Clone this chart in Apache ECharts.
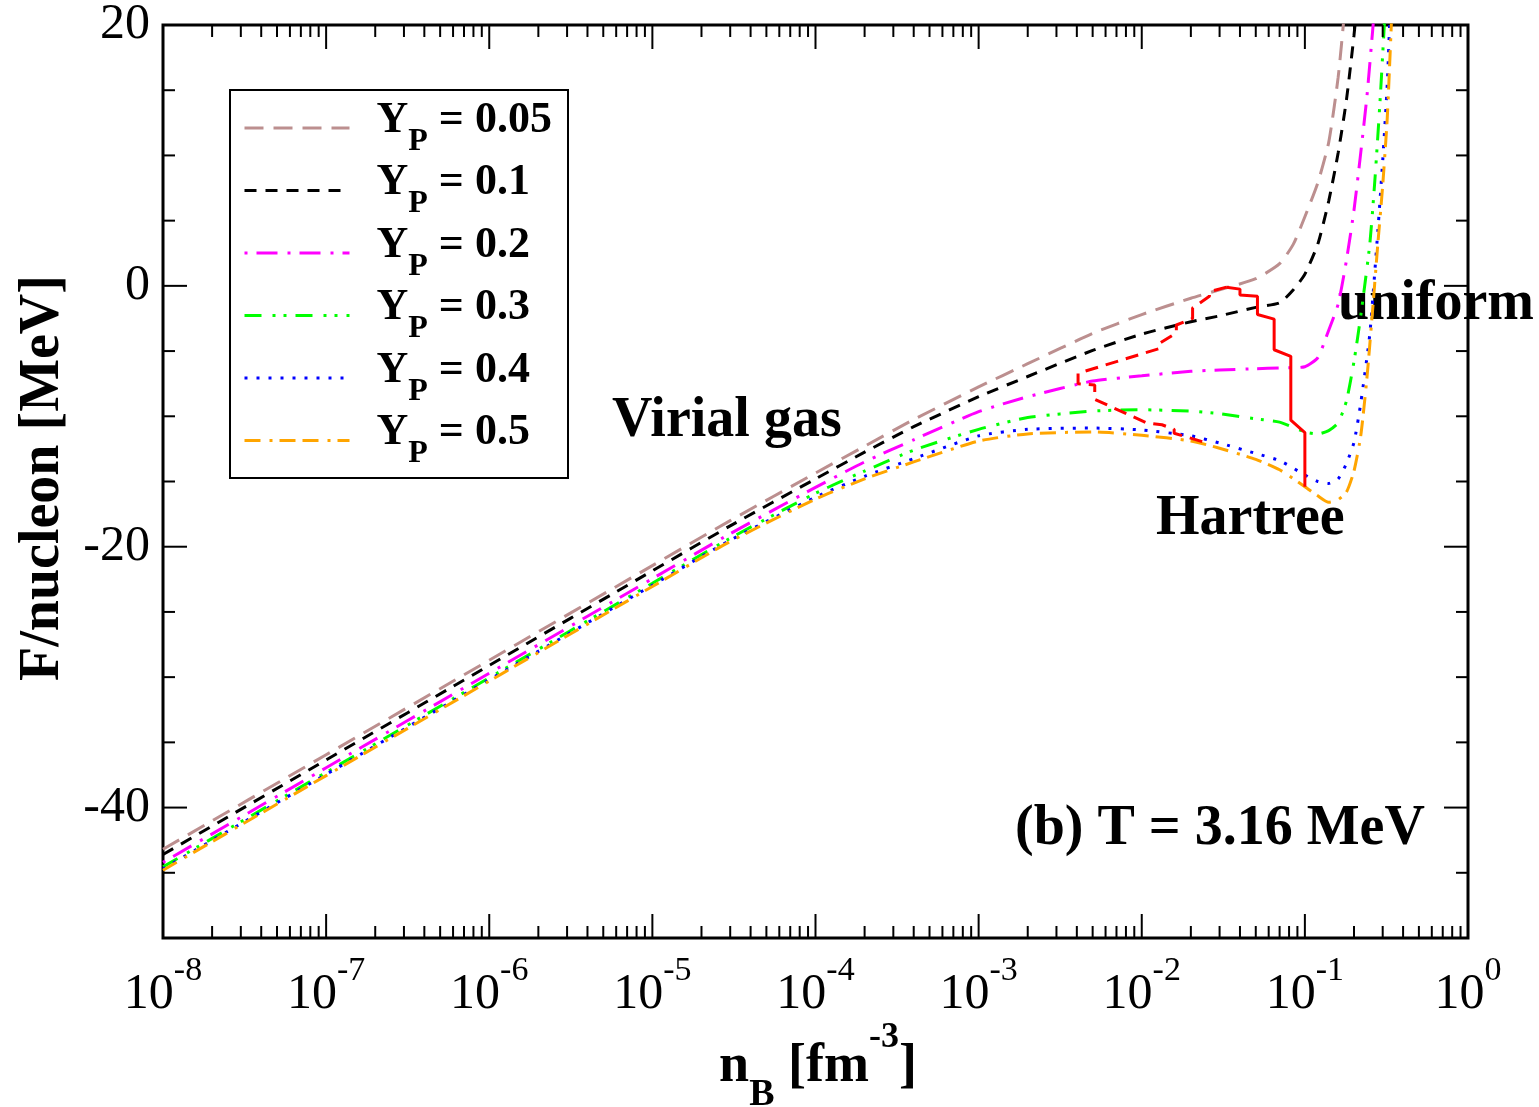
<!DOCTYPE html>
<html>
<head>
<meta charset="utf-8">
<script src="https://cdn.jsdelivr.net/npm/echarts@6/dist/echarts.min.js"></script>
<style>html,body{margin:0;padding:0;background:#fff}#c{width:1539px;height:1107px}</style>
</head>
<body>
<div id="c"></div>
<script>
// ---------- data: [n_B (fm^-3), F/nucleon (MeV)] ----------
const yp005 = [[1e-8,-43.2],[1e-7,-35.95],[1e-6,-28.7],[1e-5,-21.45],[3e-5,-18.0],[1e-4,-14.35],[2e-4,-12.3],[4e-4,-10.25],[1e-3,-7.75],[2e-3,-5.97],[5e-3,-3.65],[1e-2,-2.2],[2e-2,-0.95],[3e-2,-0.3],[5e-2,0.55],[7e-2,1.7],[0.085,3.2],[0.1,5.3],[0.12,7.9],[0.14,11.0],[0.16,16.0],[0.175,21.0]];
const yp01  = [[1e-8,-43.6],[1e-7,-36.35],[1e-6,-29.1],[1e-5,-21.85],[3e-5,-18.4],[1e-4,-14.8],[2e-4,-12.75],[4e-4,-10.8],[1e-3,-8.5],[2e-3,-6.95],[5e-3,-4.95],[1e-2,-3.7],[2e-2,-2.75],[3e-2,-2.3],[5e-2,-1.65],[7e-2,-1.3],[0.085,-0.3],[0.1,0.9],[0.12,3.2],[0.14,6.5],[0.16,10.2],[0.18,14.3],[0.2,19.2],[0.21,22.0]];
const yp02  = [[1e-8,-44.2],[1e-7,-36.95],[1e-6,-29.7],[1e-5,-22.45],[3e-5,-19.0],[1e-4,-15.45],[2e-4,-13.5],[4e-4,-11.8],[1e-3,-9.65],[2e-3,-8.5],[5e-3,-7.3],[1e-2,-6.9],[2e-2,-6.55],[3e-2,-6.45],[5e-2,-6.35],[7e-2,-6.3],[0.1,-6.2],[0.12,-5.5],[0.14,-3.4],[0.16,-1.4],[0.18,2.0],[0.2,5.8],[0.22,10.2],[0.24,14.5],[0.26,19.5],[0.27,22.0]];
const yp03  = [[1e-8,-44.55],[1e-7,-37.3],[1e-6,-30.05],[1e-5,-22.8],[3e-5,-19.35],[1e-4,-15.9],[2e-4,-14.2],[4e-4,-12.6],[1e-3,-11.0],[2e-3,-10.1],[5e-3,-9.6],[1e-2,-9.5],[2e-2,-9.6],[3e-2,-9.8],[5e-2,-10.2],[7e-2,-10.45],[0.1,-11.2],[0.12,-11.35],[0.14,-11.1],[0.16,-10.5],[0.18,-8.8],[0.2,-5.8],[0.22,-2.3],[0.25,3.2],[0.27,8.5],[0.29,14.5],[0.31,21.0]];
const yp04  = [[1e-8,-44.7],[1e-7,-37.45],[1e-6,-30.2],[1e-5,-22.95],[3e-5,-19.5],[1e-4,-16.2],[2e-4,-14.6],[4e-4,-13.25],[1e-3,-11.5],[2e-3,-11.0],[5e-3,-10.9],[1e-2,-11.05],[2e-2,-11.5],[3e-2,-12.05],[5e-2,-12.85],[7e-2,-13.4],[0.1,-14.5],[0.12,-15.0],[0.14,-15.15],[0.16,-14.8],[0.18,-13.6],[0.2,-12.0],[0.22,-9.0],[0.25,-3.7],[0.28,4.2],[0.3,9.6],[0.32,15.5],[0.335,22.0]];
const yp05  = [[1e-8,-44.8],[1e-7,-37.55],[1e-6,-30.3],[1e-5,-23.05],[3e-5,-19.6],[1e-4,-16.35],[2e-4,-14.8],[4e-4,-13.5],[1e-3,-11.9],[2e-3,-11.35],[5e-3,-11.2],[1e-2,-11.45],[2e-2,-11.9],[3e-2,-12.45],[5e-2,-13.3],[7e-2,-14.1],[0.1,-15.4],[0.12,-16.1],[0.14,-16.6],[0.16,-16.4],[0.18,-15.8],[0.2,-14.2],[0.22,-11.5],[0.24,-7.1],[0.26,-1.9],[0.28,3.2],[0.3,7.7],[0.32,12.9],[0.34,20.5]];
// phase boundaries (red)
const boundarySolid  = [[0.033,-0.1],[0.040,-0.25],[0.040,-0.7],[0.0512,-0.8],[0.0512,-2.2],[0.0648,-2.55],[0.0648,-4.9],[0.082,-5.4],[0.082,-10.3],[0.1,-11.25],[0.1,-15.4]];
const boundaryDashed = [[0.0331,-0.1],[0.026,-0.44],[0.026,-0.8],[0.0205,-1.7],[0.0205,-2.5],[0.0163,-3.0],[0.0163,-3.6],[0.0129,-4.4],[0.0129,-4.8],[0.00407,-6.7],[0.00407,-7.5],[0.00515,-7.6],[0.00515,-8.7],[0.0107,-10.5],[0.0133,-10.65],[0.0158,-11.0],[0.0158,-11.3],[0.025,-12.05]];

const seriesNames = ['0.05','0.1','0.2','0.3','0.4','0.5'];
const seriesData  = [yp005, yp01, yp02, yp03, yp04, yp05];

// ticks
const xDecades   = [-8,-7,-6,-5,-4,-3,-2,-1];
const xMinorMult = [2,3,4,5,6,7,8,9];
const yTickVals  = [-45,-40,-35,-30,-25,-20,-15,-10,-5,0,5,10,15];
const yMajorVals = [-40,-20,0];
const Y_MIN = -50, Y_MAX = 20, X_MIN = 1e-8, X_MAX = 1;

// ---------- styles ----------
const FONT = 'Liberation Serif';
const styles = [
  {color:'#bc8f8f', type:[19,10]},
  {color:'#000000', type:[12,9]},
  {color:'#ff00ff', type:[3,9,21,10]},
  {color:'#00ff00', type:[17,11,3,8,3,9]},
  {color:'#0000ff', type:[3,9]},
  {color:'#ffa500', type:[16,9,3,7,16,7]}
];

const xTickData = [];
xDecades.forEach(d => {
  if (d > -8) xTickData.push([Math.pow(10, d), 1]);
  xMinorMult.forEach(m => xTickData.push([m * Math.pow(10, d), 0]));
});
const yTickData = yTickVals.map(v => [1e-4, v, yMajorVals.indexOf(v) >= 0 ? 1 : 0]);

const chart = echarts.init(document.getElementById('c'), null, {renderer:'canvas'});

const lineSeries = seriesNames.map((nm, i) => ({
  name: nm, type:'line', data: seriesData[i], symbol:'none', smooth:0.2, silent:true,
  lineStyle:{color:styles[i].color, width:3, type:styles[i].type},
  itemStyle:{color:styles[i].color, opacity:0}, z:3
}));

const tickStyle = {stroke:'#000', lineWidth:2};

const option = {
  animation:false,
  backgroundColor:'#ffffff',
  grid:{left:163, right:71, top:25, bottom:169, show:true, borderColor:'#000', borderWidth:3, backgroundColor:'transparent', containLabel:false, outerBoundsMode:'none'},
  xAxis:{
    type:'log', logBase:10, min:X_MIN, max:X_MAX,
    axisLine:{show:false}, axisTick:{show:false}, splitLine:{show:false}, minorTick:{show:false},
    axisLabel:{
      margin:16, color:'#000',
      formatter:function(v){ const e = Math.round(Math.log10(v)); return '{b|10}{s|' + e + '}'; },
      rich:{
        b:{fontFamily:FONT, fontSize:50, lineHeight:82, color:'#000'},
        s:{fontFamily:FONT, fontSize:34, lineHeight:34, verticalAlign:'top', color:'#000'}
      }
    }
  },
  yAxis:{
    type:'value', min:Y_MIN, max:Y_MAX, interval:10,
    axisLine:{show:false}, axisTick:{show:false}, splitLine:{show:false},
    axisLabel:{margin:13, color:'#000', fontFamily:FONT, fontSize:50,
      formatter:function(v){ return (v % 20 === 0) ? String(v) : ''; }}
  },
  legend:{
    show:true, orient:'vertical', left:243, top:98.5, padding:0,
    itemWidth:105, itemHeight:14, itemGap:3.5, selectedMode:false,
    itemStyle:{opacity:0, borderWidth:0},
    lineStyle:{width:3},
    data: seriesNames,
    formatter:function(name){ return '{y|Y}{p|P}{t| = ' + name + '}{h|\u00a0}'; },
    textStyle:{
      fontFamily:FONT, color:'#000',
      rich:{
        y:{fontFamily:FONT, fontWeight:'bold', fontSize:44, lineHeight:44, verticalAlign:'top', padding:[0,0,0,22], color:'#000'},
        p:{fontFamily:FONT, fontWeight:'bold', fontSize:32, lineHeight:32, verticalAlign:'bottom', color:'#000'},
        t:{fontFamily:FONT, fontWeight:'bold', fontSize:44, lineHeight:44, verticalAlign:'top', color:'#000'},
        h:{fontFamily:FONT, fontSize:2, lineHeight:59}
      }
    }
  },
  graphic:[
    {type:'rect', shape:{x:230, y:90, width:338, height:388}, style:{fill:'none', stroke:'#000', lineWidth:2}, z:1, silent:true},
    {type:'text', x:44, y:478, rotation:Math.PI/2, silent:true,
      style:{text:'F/nucleon [MeV]', fontFamily:FONT, fontWeight:'bold', fontSize:56, fill:'#000', align:'center', verticalAlign:'middle'}},
    {type:'text', x:818, y:1067, silent:true,
      style:{text:'{n|n}{b|B}{n| [fm}{s|-3}{n|]}', align:'center', verticalAlign:'middle', fill:'#000',
        rich:{
          n:{fontFamily:FONT, fontWeight:'bold', fontSize:54, lineHeight:94, fill:'#000'},
          b:{fontFamily:FONT, fontWeight:'bold', fontSize:38, lineHeight:38, verticalAlign:'bottom', fill:'#000'},
          s:{fontFamily:FONT, fontWeight:'bold', fontSize:36, lineHeight:44, verticalAlign:'top', fill:'#000'}
        }}},
    {type:'text', x:612, y:422, silent:true, style:{text:'Virial gas', fontFamily:FONT, fontWeight:'bold', fontSize:56, fill:'#000', align:'left', verticalAlign:'middle'}},
    {type:'text', x:1338, y:305, silent:true, style:{text:'uniform', fontFamily:FONT, fontWeight:'bold', fontSize:56, fill:'#000', align:'left', verticalAlign:'middle'}},
    {type:'text', x:1156, y:520, silent:true, style:{text:'Hartree', fontFamily:FONT, fontWeight:'bold', fontSize:56, fill:'#000', align:'left', verticalAlign:'middle'}},
    {type:'text', x:1015, y:830, silent:true, style:{text:'(b) T = 3.16 MeV', fontFamily:FONT, fontWeight:'bold', fontSize:56, fill:'#000', align:'left', verticalAlign:'middle'}}
  ],
  series: lineSeries.concat([
    {name:'boundarySolid', type:'line', data:boundarySolid, symbol:'none', silent:true, z:4,
      lineStyle:{color:'#ff0000', width:3, type:'solid'}},
    {name:'boundaryDashed', type:'line', data:boundaryDashed, symbol:'none', silent:true, z:4,
      lineStyle:{color:'#ff0000', width:3, type:[13,8]}},
    {name:'xticks', type:'custom', data:xTickData, encode:{x:0, y:1}, silent:true, clip:false, z:5,
      renderItem:function(params, api){
        const n = api.value(0), major = api.value(1);
        const p0 = api.coord([n, Y_MIN]), p1 = api.coord([n, Y_MAX]);
        const L = major ? 24 : 12;
        return {type:'group', children:[
          {type:'line', shape:{x1:p0[0], y1:p0[1], x2:p0[0], y2:p0[1]-L}, style:tickStyle},
          {type:'line', shape:{x1:p1[0], y1:p1[1], x2:p1[0], y2:p1[1]+L}, style:tickStyle}
        ]};
      }},
    {name:'yticks', type:'custom', data:yTickData, encode:{x:0, y:1}, silent:true, clip:false, z:5,
      renderItem:function(params, api){
        const v = api.value(1), major = api.value(2);
        const p0 = api.coord([X_MIN, v]), p1 = api.coord([X_MAX, v]);
        const L = major ? 24 : 12;
        return {type:'group', children:[
          {type:'line', shape:{x1:p0[0], y1:p0[1], x2:p0[0]+L, y2:p0[1]}, style:tickStyle},
          {type:'line', shape:{x1:p1[0], y1:p1[1], x2:p1[0]-L, y2:p1[1]}, style:tickStyle}
        ]};
      }}
  ])
};
chart.setOption(option);
</script>
</body>
</html>
